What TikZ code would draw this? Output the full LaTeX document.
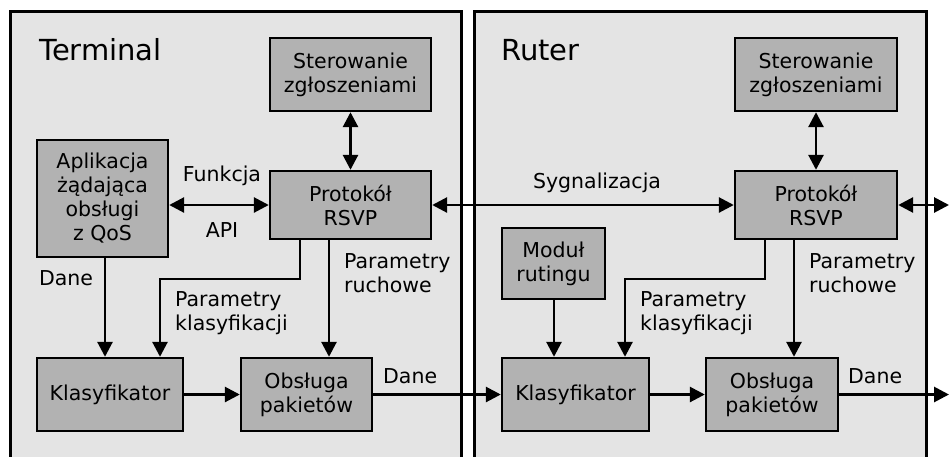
\documentclass[tikz,border=0pt]{standalone}
\usepackage{fontspec}
\setmainfont{DejaVu Sans}
\usetikzlibrary{arrows.meta}
\definecolor{outerfill}{RGB}{228,228,228}
\definecolor{innerfill}{RGB}{178,178,178}
\tikzset{
  container/.style={draw=black, line width=2.8pt, fill=outerfill, anchor=north west, inner sep=0pt},
  block/.style={draw=black, line width=2.4pt, fill=innerfill, inner sep=0pt, align=center,
    font=\fontsize{20.5}{24}\selectfont},
  lbl/.style={inner sep=0pt, align=left, font=\fontsize{20.5}{24}\selectfont},
  title/.style={inner sep=0pt, anchor=west, font=\fontsize{29}{34}\selectfont},
  conn/.style={line width=2.8pt, -{Triangle[length=15pt,width=15pt]}},
  biconn/.style={line width=2.8pt, {Triangle[length=15pt,width=15pt]}-{Triangle[length=15pt,width=15pt]}},
}
\begin{document}
\begin{tikzpicture}[x=1pt,y=-1pt]
\useasboundingbox (0,0) rectangle (950,456);
\clip (0,0) rectangle (950,456);
\fill[white] (0,0) rectangle (950,456);
% containers
\node[container, minimum width=451pt, minimum height=470pt] (term) at (9,10) {};
\node[container, minimum width=452pt, minimum height=470pt] (rut) at (473,10) {};
\node[title] (tt) at (39,50) {Terminal};
\node[title] (rt) at (501,50) {Ruter};
% terminal blocks
\node[block, minimum width=161pt, minimum height=73pt] (stT) at (350.5,74.5) {Sterowanie\\zgłoszeniami};
\node[block, minimum width=131pt, minimum height=117pt] (app) at (102.5,198.5) {Aplikacja\\żądająca\\obsługi\\z QoS};
\node[block, minimum width=161pt, minimum height=68pt] (prT) at (350.5,205) {Protokół\\RSVP};
\node[block, minimum width=146pt, minimum height=73pt] (klT) at (110,394.5) {Klasyfikator};
\node[block, minimum width=131pt, minimum height=73pt] (obT) at (306.5,394.5) {Obsługa\\pakietów};
% router blocks
\node[block, minimum width=162pt, minimum height=73pt] (stR) at (816,74.5) {Sterowanie\\zgłoszeniami};
\node[block, minimum width=162pt, minimum height=68pt] (prR) at (816,205) {Protokół\\RSVP};
\node[block, minimum width=103pt, minimum height=71pt] (mod) at (553.5,263.5) {Moduł\\rutingu};
\node[block, minimum width=147pt, minimum height=73pt] (klR) at (575.5,394.5) {Klasyfikator};
\node[block, minimum width=132pt, minimum height=73pt] (obR) at (772,394.5) {Obsługa\\pakietów};
\coordinate (outSig) at (949,205);
\coordinate (outDat) at (949,394.5);
% connectors terminal
\draw[biconn] (stT.south) -- (prT.north);
\draw[biconn] (app.east |- prT.west) -- (prT.west);
\draw[conn] (app.south -| 105,0) -- (klT.north -| 105,0);
\draw[conn] (prT.south -| 300,0) -- (300,279) -- (160,279) -- (klT.north -| 160,0);
\draw[conn] (prT.south -| 329,0) -- (obT.north -| 329,0);
\draw[conn] (klT.east) -- (obT.west);
\draw[conn] (obT.east) -- (klR.west);
% connectors router
\draw[biconn] (prT.east) -- (prR.west);
\draw[biconn] (stR.south) -- (prR.north);
\draw[biconn] (prR.east) -- (outSig);
\draw[conn] (mod.south -| 554,0) -- (klR.north -| 554,0);
\draw[conn] (prR.south -| 765,0) -- (765,279) -- (625,279) -- (klR.north -| 625,0);
\draw[conn] (prR.south -| 794,0) -- (obR.north -| 794,0);
\draw[conn] (klR.east) -- (obR.west);
\draw[conn] (obR.east) -- (outDat);
% labels
\node[lbl] (lFun) at (222,176) {Funkcja};
\node[lbl] (lApi) at (222,230) {API};
\node[lbl] (lDaneA) at (66,278) {Dane};
\node[lbl, anchor=west] (lPkT) at (175,313.5) {Parametry\\klasyfikacji};
\node[lbl, anchor=west] (lPrT) at (344,273) {Parametry\\ruchowe};
\node[lbl, anchor=west] (lDT) at (383,376) {Dane};
\node[lbl] (lSyg) at (597,183) {Sygnalizacja};
\node[lbl, anchor=west] (lPkR) at (640,313.5) {Parametry\\klasyfikacji};
\node[lbl, anchor=west] (lPrR) at (809,273) {Parametry\\ruchowe};
\node[lbl, anchor=west] (lDR) at (848,376) {Dane};
\end{tikzpicture}
\end{document}
